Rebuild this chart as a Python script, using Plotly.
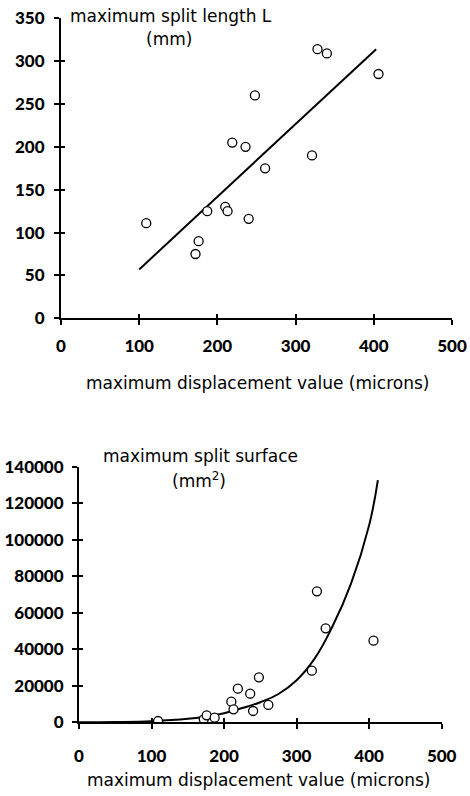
import plotly.graph_objects as go

# ---- data ----
displacement = [109, 172, 176, 187, 210, 213, 219, 236, 240, 248, 261, 321, 328, 340, 406]
split_length = [111, 75, 90, 125, 130, 125, 205, 200, 116, 260, 175, 190, 314, 309, 285]
split_surface = [700, 1640, 3830, 2555, 11300, 7120, 18440, 15700, 6200, 24640, 9490, 28300, 71730, 51470, 44720]

fit_len_x = [100, 403]
fit_len_y = [57, 314]

fit_surf_x = [0, 50, 100, 150, 175, 200, 225, 250, 275, 300, 325, 350, 375, 400, 412]
fit_surf_y = [0, 150, 600, 1900, 3200, 5000, 7800, 11000, 15500, 23000, 35000, 53000, 76000, 108000, 132600]

x_ticks = [0, 100, 200, 300, 400, 500]
len_ticks = [0, 50, 100, 150, 200, 250, 300, 350]
surf_ticks = [0, 20000, 40000, 60000, 80000, 100000, 120000, 140000]

W, H = 470, 796
def px(x):
    return x / W
def py(y):
    return 1 - y / H

fig = go.Figure()

marker = dict(symbol="circle", size=9, color="white", line=dict(color="black", width=1.3))

fig.add_trace(go.Scatter(x=fit_len_x, y=fit_len_y, mode="lines",
                         line=dict(color="black", width=2), xaxis="x", yaxis="y", showlegend=False))
fig.add_trace(go.Scatter(x=displacement, y=split_length, mode="markers",
                         marker=marker, xaxis="x", yaxis="y", showlegend=False))
fig.add_trace(go.Scatter(x=fit_surf_x, y=fit_surf_y, mode="lines",
                         line=dict(color="black", width=2, shape="spline", smoothing=1.2),
                         xaxis="x2", yaxis="y2", showlegend=False))
fig.add_trace(go.Scatter(x=displacement, y=split_surface, mode="markers",
                         marker=marker, xaxis="x2", yaxis="y2", showlegend=False))
# empty traces so the inner-tick overlay axes get drawn
fig.add_trace(go.Scatter(x=[], y=[], xaxis="x3", yaxis="y3", showlegend=False, hoverinfo="skip"))
fig.add_trace(go.Scatter(x=[], y=[], xaxis="x4", yaxis="y4", showlegend=False, hoverinfo="skip"))

tickfont = dict(family="Lato", size=17, color="black", weight=900)
common = dict(showgrid=False, zeroline=False, showline=True, linecolor="black", linewidth=2,
              ticks="outside", ticklen=5, tickwidth=2, tickcolor="black",
              tickfont=tickfont, automargin=False, fixedrange=True, tickformat="d")
inner = dict(showgrid=False, zeroline=False, showline=False, showticklabels=False,
             ticks="inside", ticklen=4, tickwidth=2, tickcolor="black",
             automargin=False, fixedrange=True)

d_x1 = [px(61), px(452)]
d_y1 = [py(318.3), py(18.3)]
d_x2 = [px(79), px(441.7)]
d_y2 = [py(722.3), py(466.7)]

fig.update_layout(
    width=W, height=H,
    margin=dict(l=0, r=0, t=0, b=0),
    paper_bgcolor="white", plot_bgcolor="white",
    xaxis=dict(domain=d_x1, range=[0, 500], tickvals=x_ticks,
               anchor="y", ticklabelstandoff=6, **common),
    yaxis=dict(domain=d_y1, range=[0, 350], tickvals=len_ticks,
               anchor="x", ticklabelstandoff=6, **common),
    xaxis2=dict(domain=d_x2, range=[0, 500], tickvals=x_ticks,
                anchor="y2", ticklabelstandoff=12, **common),
    yaxis2=dict(domain=d_y2, range=[0, 140000], tickvals=surf_ticks,
                anchor="x2", ticklabelstandoff=5, **common),
    xaxis3=dict(domain=d_x1, range=[0, 500], tickvals=x_ticks, anchor="y3", overlaying="x", **inner),
    yaxis3=dict(domain=d_y1, range=[0, 350], tickvals=len_ticks, anchor="x3", overlaying="y", **inner),
    xaxis4=dict(domain=d_x2, range=[0, 500], tickvals=x_ticks, anchor="y4", overlaying="x2", **inner),
    yaxis4=dict(domain=d_y2, range=[0, 140000], tickvals=surf_ticks, anchor="x4", overlaying="y2", **inner),
)

txt = dict(family="DejaVu Sans", size=17, color="black")
ann = [
    dict(text="maximum split length L", x=px(68), y=py(16), xanchor="left", yanchor="middle", font=txt),
    dict(text="(mm)", x=px(169), y=py(39), xanchor="center", yanchor="middle", font=txt),
    dict(text="maximum displacement value (microns)", x=px(257), y=py(383),
         xanchor="center", yanchor="middle", font=txt),
    dict(text="maximum split surface", x=px(200), y=py(456), xanchor="center", yanchor="middle", font=txt),
    dict(text="(mm<sup>2</sup>)", x=px(199), y=py(480), xanchor="center", yanchor="middle", font=txt),
    dict(text="maximum displacement value (microns)", x=px(258), y=py(780),
         xanchor="center", yanchor="middle", font=txt),
]
for a in ann:
    a.update(xref="paper", yref="paper", showarrow=False)
fig.update_layout(annotations=ann)

fig.write_html("out.html")
